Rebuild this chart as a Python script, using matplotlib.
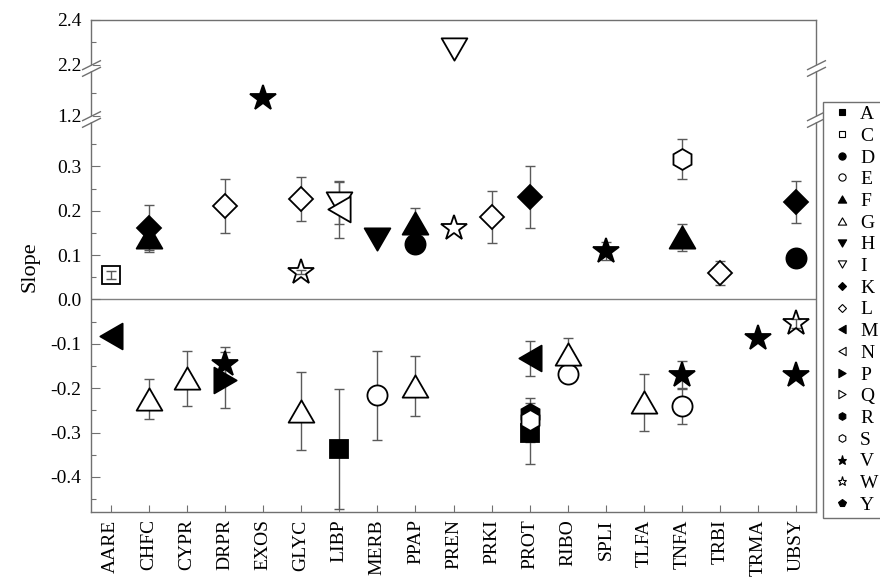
import numpy as np
import matplotlib
matplotlib.use("Agg")
import matplotlib.pyplot as plt
import matplotlib.transforms as mtransforms
from matplotlib.path import Path
from matplotlib.lines import Line2D
from matplotlib.ticker import FixedLocator

plt.rcParams['font.family'] = ['Liberation Serif', 'DejaVu Serif']
plt.rcParams['font.size'] = 14

categories = ["AARE", "CHFC", "CYPR", "DRPR", "EXOS", "GLYC", "LIBP", "MERB", "PPAP",
              "PREN", "PRKI", "PROT", "RIBO", "SPLI", "TLFA", "TNFA", "TRBI", "TRMA", "UBSY"]

# slope and error bar per series (nan = no error bar)
A_cats, A_vals, A_errs = ["LIBP", "PROT"], [-0.338, -0.302], [0.135, 0.068]
C_cats, C_vals, C_errs = ["AARE"], [0.055], [0.008]
D_cats, D_vals, D_errs = ["PPAP", "UBSY"], [0.125, 0.094], [np.nan, np.nan]
E_cats, E_vals, E_errs = ["MERB", "RIBO", "TNFA"], [-0.216, -0.167, -0.24], [0.10, 0.02, 0.04]
F_cats, F_vals, F_errs = ["CHFC", "PPAP", "TNFA"], [0.141, 0.172, 0.14], [0.03, 0.035, 0.03]
G_cats = ["CHFC", "CYPR", "GLYC", "PPAP", "RIBO", "TLFA"]
G_vals = [-0.225, -0.178, -0.252, -0.195, -0.122, -0.232]
G_errs = [0.045, 0.062, 0.088, 0.068, 0.036, 0.065]
H_cats, H_vals, H_errs = ["MERB"], [0.137], [np.nan]
I_cats, I_vals, I_errs = ["LIBP", "PREN"], [0.218, 2.27], [0.047, np.nan]
K_cats, K_vals, K_errs = ["CHFC", "PROT", "UBSY"], [0.16, 0.231, 0.22], [0.053, 0.07, 0.048]
L_cats, L_vals, L_errs = ["DRPR", "GLYC", "PRKI", "TRBI"], [0.211, 0.227, 0.186, 0.059], [0.061, 0.05, 0.059, 0.027]
M_cats, M_vals, M_errs = ["AARE", "PROT"], [-0.083, -0.133], [np.nan, 0.04]
N_cats, N_vals, N_errs = ["LIBP"], [0.203], [0.065]
P_cats, P_vals, P_errs = ["DRPR"], [-0.182], [0.063]
Q_cats, Q_vals, Q_errs = [], [], []
R_cats, R_vals, R_errs = ["PROT"], [-0.259], [np.nan]
S_cats, S_vals, S_errs = ["PROT", "TNFA"], [-0.272, 0.316], [0.05, 0.045]
V_cats = ["DRPR", "EXOS", "SPLI", "TNFA", "TRMA", "UBSY"]
V_vals = [-0.146, 1.28, 0.109, -0.17, -0.088, -0.17]
V_errs = [0.038, np.nan, 0.02, 0.032, np.nan, np.nan]
W_cats, W_vals, W_errs = ["GLYC", "PREN", "UBSY"], [0.062, 0.16, -0.054], [0.005, np.nan, 0.01]
Y_cats, Y_vals, Y_errs = [], [], []

series = [("A", A_cats, A_vals, A_errs), ("C", C_cats, C_vals, C_errs), ("D", D_cats, D_vals, D_errs),
          ("E", E_cats, E_vals, E_errs), ("F", F_cats, F_vals, F_errs), ("G", G_cats, G_vals, G_errs),
          ("H", H_cats, H_vals, H_errs), ("I", I_cats, I_vals, I_errs), ("K", K_cats, K_vals, K_errs),
          ("L", L_cats, L_vals, L_errs), ("M", M_cats, M_vals, M_errs), ("N", N_cats, N_vals, N_errs),
          ("P", P_cats, P_vals, P_errs), ("Q", Q_cats, Q_vals, Q_errs), ("R", R_cats, R_vals, R_errs),
          ("S", S_cats, S_vals, S_errs), ("V", V_cats, V_vals, V_errs), ("W", W_cats, W_vals, W_errs),
          ("Y", Y_cats, Y_vals, Y_errs)]

# equilateral triangles
def tri(verts):
    return Path(verts + [(0, 0)], [Path.MOVETO, Path.LINETO, Path.LINETO, Path.CLOSEPOLY])

tri_up = tri([(0, 0.866), (-1, -0.866), (1, -0.866)])
tri_down = tri([(0, -0.866), (-1, 0.866), (1, 0.866)])
tri_left = tri([(-0.866, 0), (0.866, 1), (0.866, -1)])
tri_right = tri([(0.866, 0), (-0.866, 1), (-0.866, -1)])

# marker, face, plot size, legend size
styles = {
    "A": ("s", "k", 13.5, 5), "C": ("s", "none", 13.5, 5),
    "D": ("o", "k", 14.5, 5.2), "E": ("o", "white", 14.5, 5.2),
    "F": (tri_up, "k", 18.5, 6), "G": (tri_up, "white", 18.5, 6),
    "H": (tri_down, "k", 18.5, 6), "I": (tri_down, "white", 18.5, 6),
    "K": ("D", "k", 12, 4.5), "L": ("D", "white", 12, 4.5),
    "M": (tri_left, "k", 18.5, 6), "N": (tri_left, "white", 18.5, 6),
    "P": (tri_right, "k", 18.5, 6), "Q": (tri_right, "white", 18.5, 6),
    "R": ("h", "k", 15, 5.5), "S": ("h", "white", 15, 5.5),
    "V": ("*", "k", 19, 6.5), "W": ("*", "none", 19, 6.5),
    "Y": ("p", "k", 14, 6),
}

# broken y axis: -0.48..0.4 | 1.2..1.4 | 2.2..2.4
seg_v = [-1.5, 0.4, 1.2, 1.4, 2.2, 2.4, 3.5]
seg_u = [-1.5, 0.4, 0.4135, 0.5149, 0.5284, 0.6298, 1.1798]


def fwd(v):
    return np.interp(v, seg_v, seg_u)


def inv(u):
    return np.interp(u, seg_u, seg_v)


fig = plt.figure(figsize=(8.8, 5.83), dpi=100)
ax = fig.add_axes([91 / 880, 1 - 512.4 / 583, 725 / 880, 492.4 / 583])
ax.set_yscale('function', functions=(fwd, inv))
ax.set_ylim(-0.48, 2.4)
ax.set_xlim(-0.52, 18.52)

spine_col = "#707070"
bar_col = "#5a5a5a"
for sp in ax.spines.values():
    sp.set_color(spine_col)
    sp.set_linewidth(1.0)

ax.axhline(0, color="#808080", lw=1.0, zorder=1)

for name, cats, vals, errs in series:
    if not cats:
        continue
    xs = [categories.index(c) for c in cats]
    ax.errorbar(xs, vals, yerr=errs, fmt='none', ecolor=bar_col, elinewidth=1.0,
                capsize=3.3, capthick=1.0, zorder=2)

for name, cats, vals, errs in series:
    if not cats:
        continue
    xs = [categories.index(c) for c in cats]
    mk, face, ms, _ = styles[name]
    ax.plot(xs, vals, ls='none', marker=mk, ms=ms, mfc=face, mec='k', mew=1.3, zorder=3)

major = [-0.4, -0.3, -0.2, -0.1, 0.0, 0.1, 0.2, 0.3, 1.2, 2.2, 2.4]
minor = [-0.45, -0.35, -0.25, -0.15, -0.05, 0.05, 0.15, 0.25, 0.35, 1.3, 2.3]
ax.yaxis.set_major_locator(FixedLocator(major))
ax.yaxis.set_minor_locator(FixedLocator(minor))
ax.set_yticklabels([f"{v:.1f}" for v in major])
ax.tick_params(axis='y', which='major', direction='in', length=6.5, width=0.8, color=spine_col, pad=7)
ax.tick_params(axis='y', which='minor', direction='in', length=3.6, width=0.8, color=spine_col)

ax.set_xticks(range(len(categories)))
ax.set_xticklabels(categories, rotation=90)
ax.tick_params(axis='x', direction='in', length=5, width=0.8, color=spine_col, pad=5)
ax.set_ylabel("Slope", fontsize=16, labelpad=8)

# break marks on both vertical spines
brk = Path([(-1, -0.85), (1, 0.15), (-1, -0.15), (1, 0.85)],
           [Path.MOVETO, Path.LINETO, Path.MOVETO, Path.LINETO])
trans = mtransforms.blended_transform_factory(ax.transAxes, ax.transData)
for yb in [0.8, 1.8]:
    ax.plot([0, 1], [yb, yb], transform=trans, ls='none', marker='|', ms=4.5, mew=3,
            color='white', clip_on=False, zorder=5)
    ax.plot([0, 1], [yb, yb], transform=trans, ls='none', marker=brk, ms=13.7, mew=1.0,
            mfc='none', mec=spine_col, clip_on=False, zorder=6)

handles = []
for name, cats, vals, errs in series:
    mk, face, ms, lms = styles[name]
    handles.append(Line2D([], [], ls='none', marker=mk, ms=lms, mfc=face, mec='k', mew=0.8, label=name))

# legend runs past the right edge of the figure, as in the original
leg = fig.legend(handles=handles, loc='upper left', mode='expand',
                 bbox_to_anchor=(823 / 880, 0, 0.12, 1 - 101.7 / 583),
                 frameon=True, fancybox=False, edgecolor=spine_col, framealpha=1,
                 borderpad=0.2, labelspacing=0.21, handlelength=1.6, handletextpad=0.1,
                 borderaxespad=0, fontsize=14)
leg.get_frame().set_linewidth(1.0)

fig.savefig("out.png", dpi=100)
